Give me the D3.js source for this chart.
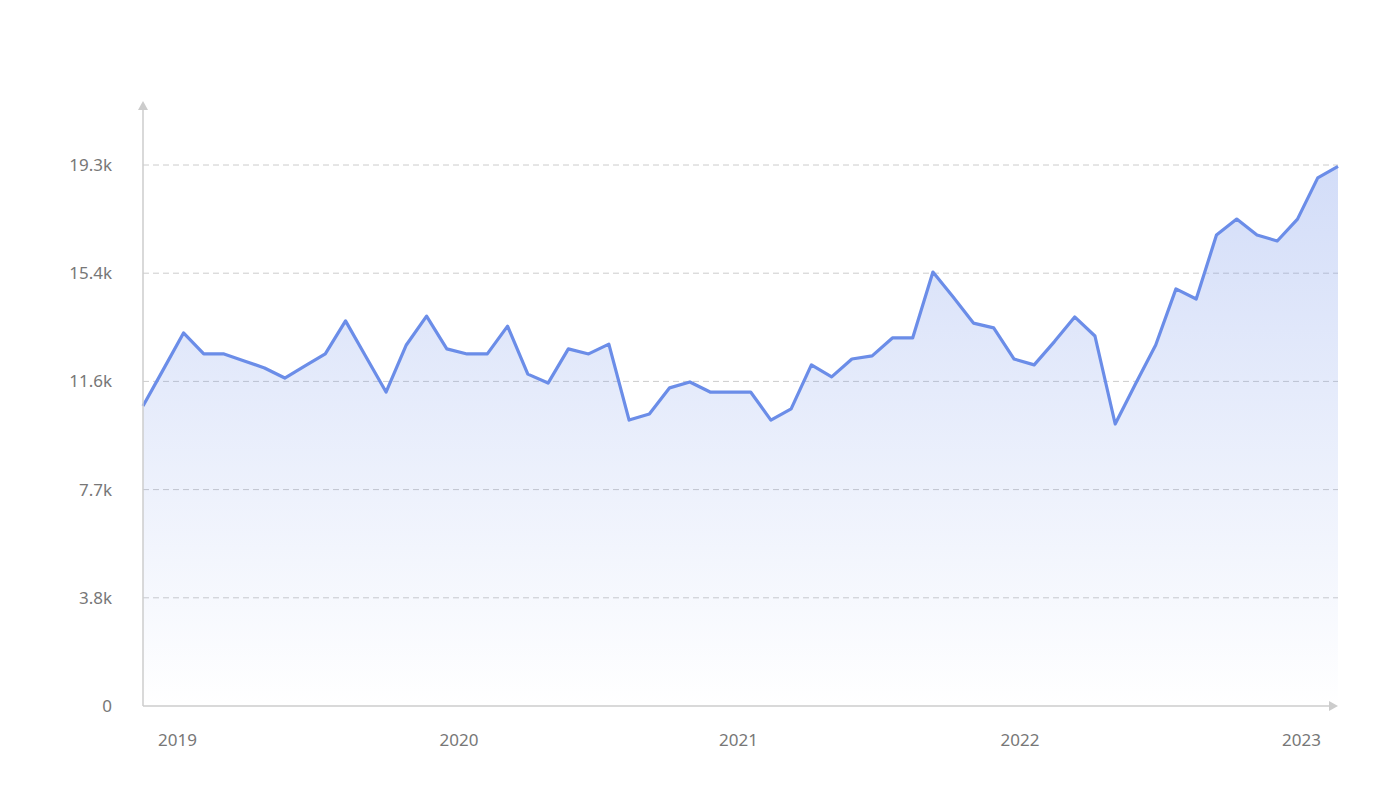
<!DOCTYPE html>
<html><head><meta charset="utf-8">
<script src="https://cdn.jsdelivr.net/npm/d3@7/dist/d3.min.js"></script>
<style>body{margin:0;background:#fff}svg{font-family:"Noto Sans",sans-serif}</style>
</head><body><svg id="c" width="1400" height="810"></svg>
<script>
const values = [10.70,12.0,13.31,12.56,12.56,12.31,12.06,11.70,12.13,12.56,13.74,12.47,11.20,12.88,13.91,12.74,12.56,12.56,13.55,11.84,11.52,12.74,12.56,12.91,10.20,10.42,11.35,11.56,11.20,11.20,11.20,10.20,10.60,12.17,11.74,12.38,12.49,13.13,13.13,15.48,14.59,13.66,13.49,12.38,12.17,13.0,13.88,13.20,10.06,11.49,12.88,14.88,14.52,16.80,17.37,16.80,16.59,17.37,18.84,19.25].map(v=>v*1000);
const yTicks = [0,3860,7720,11580,15440,19300];
const yTickLabels = ["0","3.8k","7.7k","11.6k","15.4k","19.3k"];
const xLabels = ["2019","2020","2021","2022","2023"];
const xLabelPos = [1.7,15.6,29.4,43.3,57.2];

const svg = d3.select("#c");
const x = d3.scaleLinear().domain([0, values.length-1]).range([143,1338]);
const y = d3.scaleLinear().domain([0,19300]).range([706,165]);
const defs = svg.append("defs");
const g = defs.append("linearGradient").attr("id","gr").attr("x1",0).attr("x2",0).attr("y1",0).attr("y2",1);
g.append("stop").attr("offset","0%").attr("stop-color","#6b8de8").attr("stop-opacity",0.3);
g.append("stop").attr("offset","100%").attr("stop-color","#6b8de8").attr("stop-opacity",0.0);

svg.selectAll(".grid").data(yTicks.slice(1)).enter().append("line")
  .attr("x1",143).attr("x2",1338).attr("y1",d=>y(d)).attr("y2",d=>y(d))
  .attr("stroke","#ccc").attr("stroke-dasharray","6,4");
svg.selectAll(".yl").data(yTicks).enter().append("text")
  .attr("x",112).attr("y",d=>y(d)+6).attr("text-anchor","end")
  .attr("fill","#777").attr("font-size",17).text((d,i)=>yTickLabels[i]);

const area = d3.area().x((d,i)=>x(i)).y0(y(0)).y1(d=>y(d));
svg.append("path").datum(values).attr("d",area).attr("fill","url(#gr)");
const line = d3.line().x((d,i)=>x(i)).y(d=>y(d));
svg.append("path").datum(values).attr("d",line).attr("fill","none")
  .attr("stroke","#6b8de8").attr("stroke-width",3.2).attr("stroke-linejoin","round");

svg.append("line").attr("x1",143).attr("x2",143).attr("y1",108).attr("y2",706).attr("stroke","#ccc").attr("stroke-width",1.5);
svg.append("path").attr("d","M143,101 L138,110 L148,110 Z").attr("fill","#ccc");
svg.append("line").attr("x1",143).attr("x2",1332).attr("y1",706).attr("y2",706).attr("stroke","#ccc").attr("stroke-width",1.5);
svg.append("path").attr("d","M1338,706 L1329,701 L1329,711 Z").attr("fill","#ccc");

svg.selectAll(".xl").data(xLabels).enter().append("text")
  .attr("x",(d,i)=>x(xLabelPos[i])).attr("y",746).attr("text-anchor","middle")
  .attr("fill","#777").attr("font-size",17).text(d=>d);
</script></body></html>
